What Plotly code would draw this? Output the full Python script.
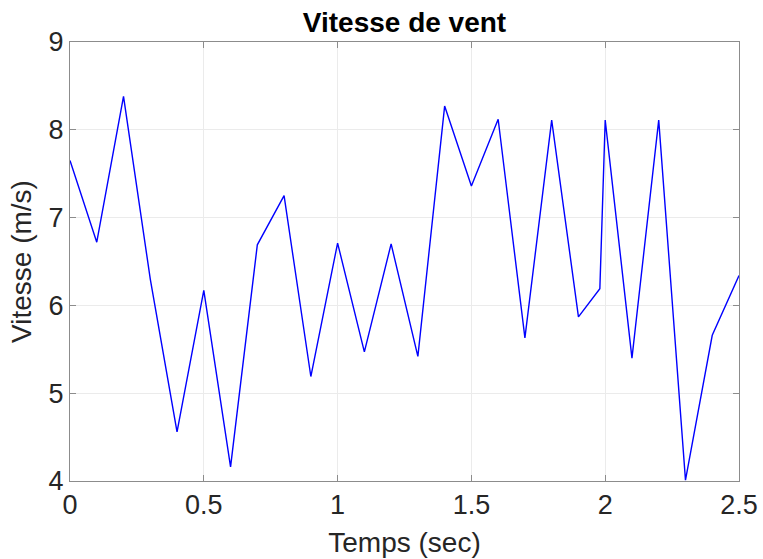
import plotly.graph_objects as go

# Wind speed samples (time in seconds, speed in m/s)
temps = [0.0, 0.1, 0.2, 0.3, 0.4, 0.5, 0.6, 0.7, 0.8, 0.9, 1.0, 1.1, 1.2,
         1.3, 1.4, 1.5, 1.6, 1.7, 1.8, 1.9, 1.98, 2.0, 2.1, 2.2, 2.3, 2.4, 2.5]
vitesse = [7.65, 6.72, 8.38, 6.30, 4.56, 6.17, 4.16, 6.69, 7.25, 5.19, 6.71,
           5.47, 6.70, 5.42, 8.27, 7.36, 8.12, 5.63, 8.11, 5.87, 6.19, 8.11,
           5.40, 8.11, 4.01, 5.66, 6.34]

x_ticks = [0, 0.5, 1, 1.5, 2, 2.5]
x_tick_text = ["0", "0.5", "1", "1.5", "2", "2.5"]
y_ticks = [4, 5, 6, 7, 8, 9]

font_family = "Liberation Sans, Arial, sans-serif"
axis_grey = "#262626"
frame_grey = "#8c8c8c"

fig = go.Figure()
fig.add_trace(go.Scatter(
    x=temps, y=vitesse, mode="lines",
    line=dict(color="rgb(0,0,255)", width=1.4),
    showlegend=False,
))

axis_common = dict(
    showline=True, linecolor=frame_grey, linewidth=1, mirror="ticks",
    ticks="inside", ticklen=6, tickcolor=frame_grey, tickwidth=1,
    showgrid=True, gridcolor="#ebebeb", gridwidth=1, zeroline=False,
    automargin=False,
    tickfont=dict(family=font_family, size=27, color=axis_grey),
)

fig.update_layout(
    width=763, height=559,
    margin=dict(l=70, r=24, t=42, b=78),
    paper_bgcolor="white", plot_bgcolor="white",
    title=dict(
        text="<b>Vitesse de vent</b>", x=0.5, xanchor="center",
        xref="paper",
        y=1 - 22 / 559, yanchor="middle",
        font=dict(family=font_family, size=28, color="black"),
    ),
    xaxis=dict(
        range=[0, 2.5], tickvals=x_ticks, ticktext=x_tick_text,
        title=dict(text="Temps (sec)", standoff=12,
                   font=dict(family=font_family, size=28, color=axis_grey)),
        **axis_common,
    ),
    yaxis=dict(
        range=[4, 9], tickvals=y_ticks,
        title=dict(text="Vitesse (m/s)", standoff=8,
                   font=dict(family=font_family, size=28, color=axis_grey)),
        **axis_common,
    ),
)

fig.write_html("out.html")
